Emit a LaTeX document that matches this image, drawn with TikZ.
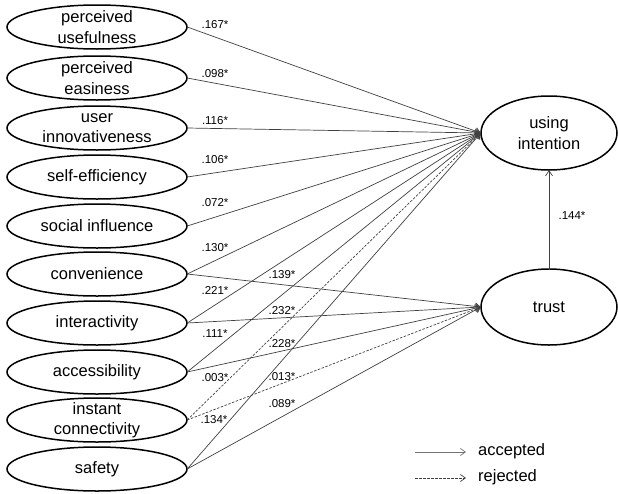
\documentclass[tikz,border=0pt]{standalone}
\usepackage{fontspec}
\setmainfont{Liberation Sans}
\usetikzlibrary{arrows.meta}
\tikzset{
  lv/.style={shape=rectangle, minimum width=180pt, minimum height=44pt, inner sep=0pt, align=center, font=\fontsize{16.5}{20.5}\selectfont},
  rv/.style={shape=rectangle, minimum width=136pt, minimum height=74pt, inner sep=0pt, align=center, font=\fontsize{16.5}{20.5}\selectfont},
  oval/.style={line width=1.5pt, black},
  path/.style={draw=black!75, line width=0.7pt, -{Straight Barb[length=5pt,width=7pt]}},
  rej/.style={path, dash pattern=on 2.5pt off 1.5pt},
  coef/.style={font=\fontsize{11.5}{13}\selectfont, inner sep=0pt},
  leg/.style={font=\fontsize{16.5}{20}\selectfont, anchor=west, inner sep=0pt}
}
\begin{document}
\begin{tikzpicture}[x=1pt, y=-1pt]
\useasboundingbox (0,0) rectangle (618,493);
% left latent variables
\node[lv] (pu) at (97,27) {perceived\\usefulness};
\node[lv] (pe) at (97,78) {perceived\\easiness};
\node[lv] (ui) at (97,128) {user\\innovativeness};
\node[lv] (se) at (97,177) {self-efficiency};
\node[lv] (si) at (97,226) {social influence};
\node[lv] (cv) at (97,274) {convenience};
\node[lv] (ia) at (97,323) {interactivity};
\node[lv] (ac) at (97,372) {accessibility};
\node[lv] (ic) at (97,420) {instant\\connectivity};
\node[lv] (sa) at (97,469) {safety};
% right latent variables
\node[rv] (it) at (549,133) {using\\intention};
\node[rv] (tr) at (549,307) {trust};
\foreach \n in {pu,pe,ui,se,si,cv,ia,ac,ic,sa}
  \draw[oval] (\n.center) ellipse [x radius=90pt, y radius=22pt];
\draw[oval] (it.center) ellipse [x radius=68pt, y radius=37pt];
\draw[oval] (tr.center) ellipse [x radius=68pt, y radius=38pt];
% paths to using intention
\foreach \n in {pu,pe,ui,se,si,cv,ia,ac,sa}
  \draw[path] (\n.east) -- (it.west);
\draw[rej] (ic.east) -- (it.west);
% paths to trust
\foreach \n in {cv,ia,ac,sa}
  \draw[path] (\n.east) -- (tr.west);
\draw[rej] (ic.east) -- (tr.west);
\draw[path] (tr.north) -- (it.south);
% coefficients
\node[coef] (c1) at (215,25) {.167*};
\node[coef] (c2) at (215,74) {.098*};
\node[coef] (c3) at (215,121) {.116*};
\node[coef] (c4) at (215,160) {.106*};
\node[coef] (c5) at (215,203) {.072*};
\node[coef] (c6) at (215,248) {.130*};
\node[coef] (c7) at (215,290) {.221*};
\node[coef] (c8) at (215,334) {.111*};
\node[coef] (c9) at (215,378) {.003*};
\node[coef] (c10) at (214,420) {.134*};
\node[coef] (c11) at (282,275) {.139*};
\node[coef] (c12) at (282,311) {.232*};
\node[coef] (c13) at (282,344) {.228*};
\node[coef] (c14) at (282,377) {.013*};
\node[coef] (c15) at (282,404) {.089*};
\node[coef] (c16) at (572,216) {.144*};
% legend
\coordinate (a1) at (415,452);
\coordinate (a2) at (466,452);
\coordinate (r1) at (415,478);
\coordinate (r2) at (466,478);
\draw[path, draw=black!55] (a1) -- (a2);
\draw[rej, draw=black!75] (r1) -- (r2);
\node[leg] (la) at (478,451) {accepted};
\node[leg] (lr) at (478,477) {rejected};
\end{tikzpicture}
\end{document}
